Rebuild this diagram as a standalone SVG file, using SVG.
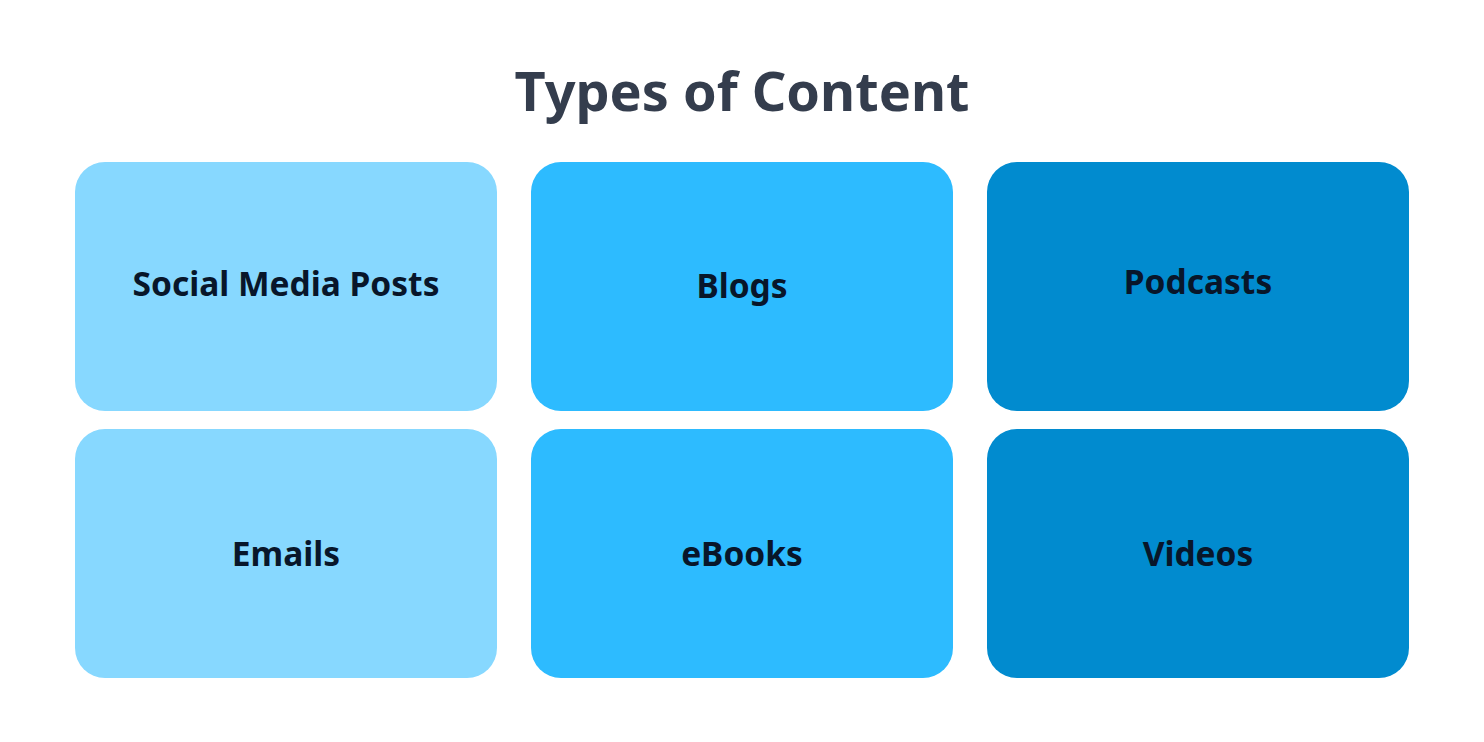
<svg xmlns="http://www.w3.org/2000/svg" width="1484" height="742" viewBox="0 0 1484 742">
<style>
.t{font-family:"Noto Sans","Liberation Sans",sans-serif;font-weight:700;text-anchor:middle}
.title{font-size:54px;fill:#343d4d}
.lbl{font-size:33.5px;fill:#08162a}
.c1{fill:#87d8ff}.c2{fill:#2dbbff}.c3{fill:#018bcf}
</style>
<rect width="1484" height="742" fill="#ffffff"/>
<text class="t title" x="742" y="111">Types of Content</text>
<g id="social"><rect class="c1" x="75" y="162" width="422" height="249" rx="30"/><text class="t lbl" x="286" y="296">Social Media Posts</text></g>
<g id="blogs"><rect class="c2" x="531" y="162" width="422" height="249" rx="30"/><text class="t lbl" x="742" y="298">Blogs</text></g>
<g id="podcasts"><rect class="c3" x="987" y="162" width="422" height="249" rx="30"/><text class="t lbl" x="1198" y="294">Podcasts</text></g>
<g id="emails"><rect class="c1" x="75" y="429" width="422" height="249" rx="30"/><text class="t lbl" x="286" y="566">Emails</text></g>
<g id="ebooks"><rect class="c2" x="531" y="429" width="422" height="249" rx="30"/><text class="t lbl" x="742" y="566">eBooks</text></g>
<g id="videos"><rect class="c3" x="987" y="429" width="422" height="249" rx="30"/><text class="t lbl" x="1198" y="566">Videos</text></g>
<g id="connectors"/>
</svg>
